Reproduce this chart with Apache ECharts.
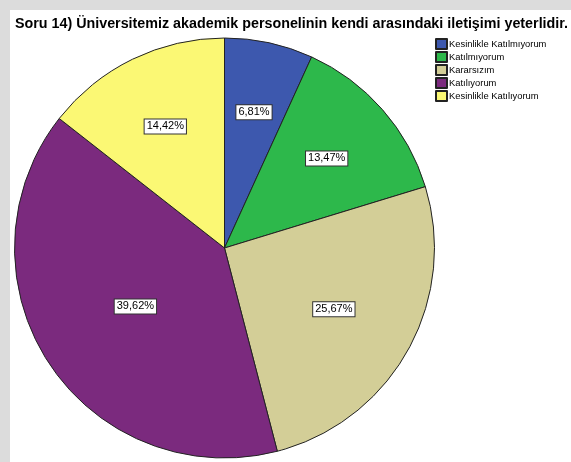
<!DOCTYPE html>
<html>
<head>
<meta charset="utf-8">
<script src="https://cdn.jsdelivr.net/npm/echarts@6/dist/echarts.min.js"></script>
<style>
  * { margin: 0; padding: 0; }
  body { background: #dcdcdc; width: 571px; height: 462px; overflow: hidden; }
  #paper { position: absolute; left: 10px; top: 10px; width: 561px; height: 452px; background: #fff; }
  #main { position: absolute; left: 0; top: 0; width: 571px; height: 462px; }
</style>
</head>
<body>
<div id="paper"></div>
<div id="main"></div>
<script>
// veriler
var categories = ['Kesinlikle Katılmıyorum', 'Katılmıyorum', 'Kararsızım', 'Katılıyorum', 'Kesinlikle Katılıyorum'];
var percents = [6.81, 13.47, 25.67, 39.62, 14.42];
var colors = ['#3d58ae', '#2db84b', '#d3ce97', '#7b2a7e', '#fbf874'];

var cx = 224.5, cy = 248, R = 210;
var total = percents.reduce(function (a, b) { return a + b; }, 0);

// etiketi dilimin ağırlık merkezine taşı
function centroid(i) {
  var start = 0;
  for (var k = 0; k < i; k++) start += percents[k] / total * Math.PI * 2;
  var span = percents[i] / total * Math.PI * 2;
  var mid = start + span / 2;
  var d = 4 * R * Math.sin(span / 2) / (3 * span);
  return [cx + d * Math.sin(mid), cy - d * Math.cos(mid)];
}

var chart = echarts.init(document.getElementById('main'));
chart.setOption({
  animation: false,
  title: {
    text: 'Soru 14) Üniversitemiz akademik personelinin kendi arasındaki iletişimi yeterlidir.',
    left: 10, top: 12,
    textStyle: { fontFamily: 'Liberation Sans', fontSize: 14.3, fontWeight: 'bold', color: '#000' }
  },
  legend: {
    orient: 'vertical',
    left: 435, top: 38,
    padding: 0,
    itemWidth: 11, itemHeight: 10, itemGap: 1,
    icon: 'rect',
    data: categories,
    textStyle: { fontFamily: 'Liberation Sans', fontSize: 9.4, lineHeight: 10, color: '#000', padding: [0, 0, 0, -3] }
  },
  series: [{
    type: 'pie',
    center: [cx, cy],
    radius: R,
    startAngle: 90,
    clockwise: true,
    color: colors,
    itemStyle: { borderColor: '#222', borderWidth: 1 },
    label: {
      position: 'inside',
      formatter: function (p) { return p.value.toFixed(2).replace('.', ',') + '%'; },
      fontFamily: 'Liberation Sans', fontSize: 11, color: '#000',
      backgroundColor: '#fff', borderColor: '#333', borderWidth: 1,
      padding: [2, 2, 1, 2]
    },
    labelLayout: function (p) {
      var c = centroid(p.dataIndex);
      var r = p.labelRect;
      return { dx: c[0] - (r.x + r.width / 2), dy: c[1] - (r.y + r.height / 2) };
    },
    emphasis: { disabled: true },
    data: categories.map(function (name, i) { return { name: name, value: percents[i] }; })
  }]
});
</script>
</body>
</html>
